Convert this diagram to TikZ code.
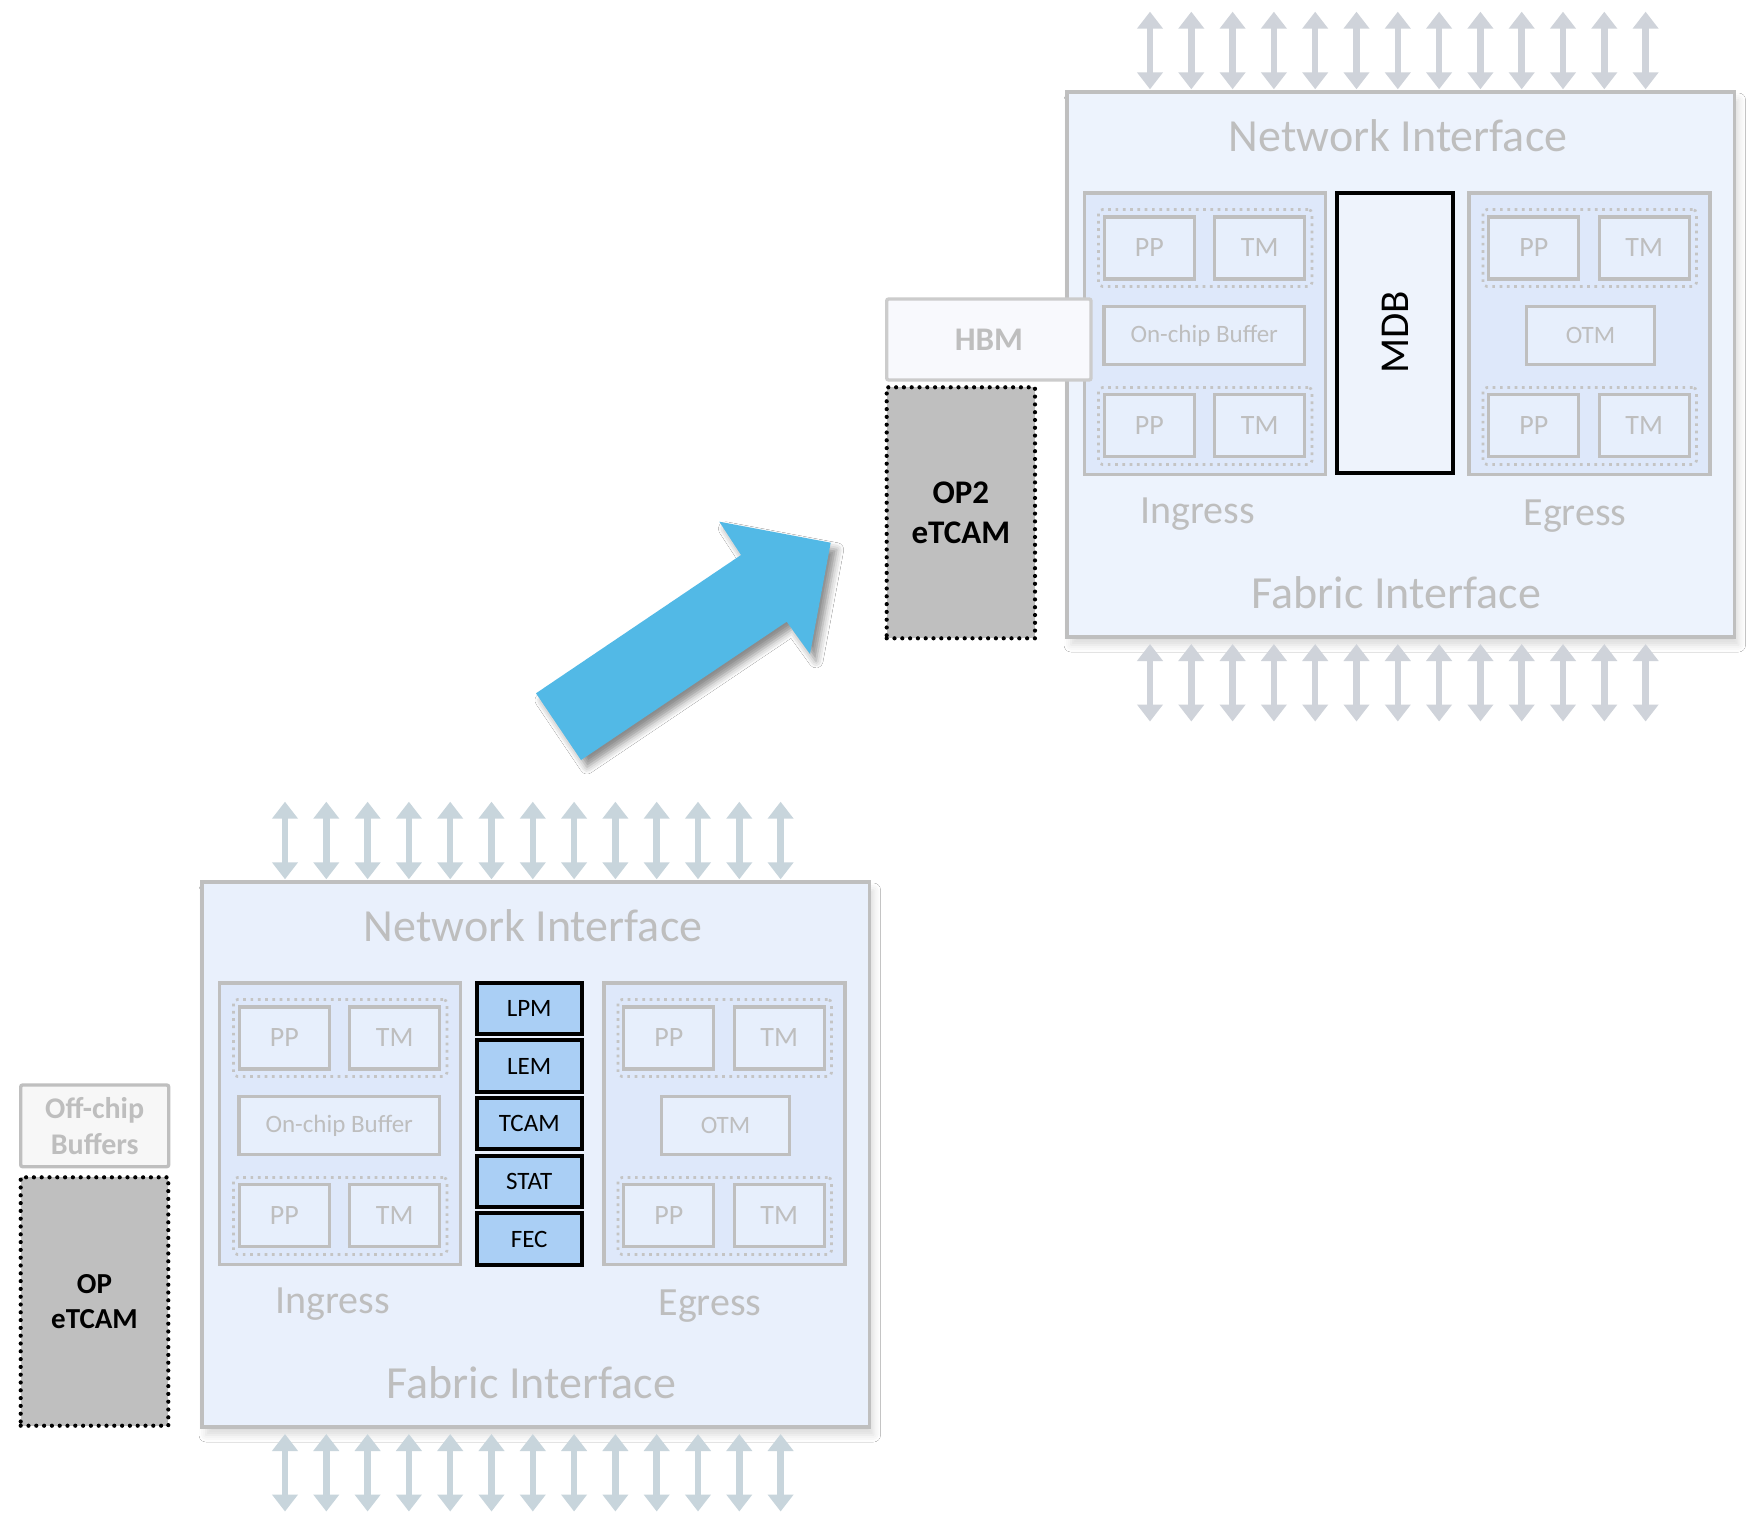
\documentclass[tikz,border=0pt]{standalone}
\usepackage{fontspec}
\setmainfont{Carlito}
\usetikzlibrary{arrows.meta,shadows.blur}
\definecolor{gline}{HTML}{BFBFBF}
\definecolor{gtext}{HTML}{BEBEBE}
\definecolor{dotline}{HTML}{C4C4C4}
\definecolor{grpfill}{HTML}{DEE8FA}
\definecolor{boxfill}{HTML}{E7EFFC}
\definecolor{chipA}{HTML}{E9F0FC}
\definecolor{chipB}{HTML}{EDF3FD}
\definecolor{busA}{HTML}{C8D5DC}
\definecolor{busB}{HTML}{CFD3DA}
\definecolor{blkfill}{HTML}{AACFF5}
\definecolor{mdbfill}{HTML}{EEF3FC}
\definecolor{hbmfill}{HTML}{F8F9FD}
\definecolor{hbmline}{HTML}{CCCCCC}
\definecolor{offfill}{HTML}{F7F7F7}
\definecolor{tcamgray}{HTML}{BFBFBF}
\definecolor{bluearr}{HTML}{52B9E6}

\newcommand\drawchip[5]{%
\begin{scope}[shift={(#2,#3)}]
\node[chip, fill=#5] (#1out) at (535.75,1154.5) {};
\node[lbl, bigf, anchor=base] (#1ni) at (533,941.7) {Network Interface};
\node[lbl, bigf, anchor=base] (#1fi) at (531.3,1398.5) {Fabric Interface};
\node[lbl, midf, anchor=base] (#1ing) at (332.7,1313) {Ingress};
\node[lbl, midf, anchor=base] (#1egr) at (710,1315) {Egress};
\node[grp] (#1ig) at (340,1123.75) {};
\node[grp] (#1eg) at (724.5,1123.75) {};
\node[dotgrp] (#1id1) at (340.25,1038) {};
\node[dotgrp] (#1id2) at (340.25,1216) {};
\node[dotgrp] (#1ed1) at (724.75,1038) {};
\node[dotgrp] (#1ed2) at (724.75,1216) {};
\node[pbox] (#1ipp1) at (284.25,1037.85) {PP};
\node[pbox] (#1itm1) at (394.75,1037.85) {TM};
\node[pbox] (#1ipp2) at (284.25,1215.7) {PP};
\node[pbox] (#1itm2) at (394.75,1215.7) {TM};
\node[pbox] (#1epp1) at (668.75,1037.85) {PP};
\node[pbox] (#1etm1) at (779.25,1037.85) {TM};
\node[pbox] (#1epp2) at (668.75,1215.7) {PP};
\node[pbox] (#1etm2) at (779.25,1215.7) {TM};
\node[pbox, minimum width=200.5pt, minimum height=57.6pt, font=\fontsize{25}{30}\selectfont] (#1buf) at (339.25,1125.5) {On-chip Buffer};
\node[pbox, minimum width=128pt, minimum height=57.6pt, font=\fontsize{25}{30}\selectfont] (#1otm) at (725.5,1125.5) {OTM};
\foreach \i in {0,...,12}{
  \coordinate (#1ta\i) at ({285+41.3*\i},801.7);
  \coordinate (#1tb\i) at ({285+41.3*\i},879.3);
  \coordinate (#1ba\i) at ({285+41.3*\i},1434);
  \coordinate (#1bb\i) at ({285+41.3*\i},1511.5);
  \draw[iobus, draw=#4] (#1ta\i) -- (#1tb\i);
  \draw[iobus, draw=#4] (#1ba\i) -- (#1bb\i);
}
\end{scope}}

\begin{document}
\begin{tikzpicture}[x=1pt,y=-1pt,
  chip/.style={draw=gline, line width=3.7pt, minimum width=667.5pt, minimum height=545pt, inner sep=0pt,
    blur shadow={shadow xshift=4pt, shadow yshift=-8pt, shadow blur radius=7pt, shadow opacity=14}},
  lbl/.style={text=gtext, inner sep=0pt},
  bigf/.style={font=\fontsize{46}{55}\selectfont},
  midf/.style={font=\fontsize{40}{48}\selectfont},
  grp/.style={draw=gline, line width=3.4pt, fill=grpfill, minimum width=241pt, minimum height=281.5pt, inner sep=0pt},
  dotgrp/.style={draw=dotline, line width=2.7pt, dash pattern=on 2.7pt off 4.6pt, rounded corners=4pt,
    minimum width=213.5pt, minimum height=77pt, inner sep=0pt},
  pbox/.style={draw=gline, line width=3.4pt, fill=boxfill, text=gtext, font=\fontsize{28}{34}\selectfont,
    minimum width=90pt, minimum height=62pt, inner sep=0pt},
  blk/.style={draw=black, line width=4pt, fill=blkfill, font=\fontsize{25}{30}\selectfont,
    minimum width=105pt, minimum height=51.5pt, inner sep=0pt},
  iobus/.style={line width=6.5pt, arrows={Triangle[width=25pt,length=17pt]-Triangle[width=25pt,length=17pt]}},
  etcam/.style={draw=black, line width=4.2pt, dash pattern=on 0pt off 7.8pt, line cap=round, fill=tcamgray,
    align=center, inner sep=0pt},
  sidebox/.style={line width=3.4pt, align=center, inner sep=0pt, text=gtext, rounded corners=2pt}
]
\useasboundingbox (0,0) rectangle (1750,1514);
\fill[white] (0,0) rectangle (1750,1514);

% bottom-left chip
\drawchip{A}{0}{0}{busA}{chipA}
\node[blk] (lpm)  at (529.2,1008.4) {LPM};
\node[blk] (lem)  at (529.2,1066.1) {LEM};
\node[blk] (tcam) at (529.2,1123.7) {TCAM};
\node[blk] (stat) at (529.2,1181.4) {STAT};
\node[blk] (fec)  at (529.2,1239.0) {FEC};

\node[sidebox, draw=gline, fill=offfill, minimum width=148pt, minimum height=81.7pt,
  font=\bfseries\fontsize{30}{36}\selectfont] (offchip) at (94.7,1125.85) {Off-chip\\Buffers};
\node[etcam, minimum width=147.6pt, minimum height=248.4pt,
  font=\bfseries\fontsize{29}{35}\selectfont] (op) at (94.5,1301.5) {OP\\eTCAM};

% top-right chip
\drawchip{B}{865}{-790}{busB}{chipB}
\node[draw=black, line width=3.7pt, fill=mdbfill, rotate=90, minimum width=280pt, minimum height=116pt,
  inner sep=0pt, font=\fontsize{41}{49}\selectfont] (mdb) at (1395,332.7) {MDB};

\node[sidebox, draw=hbmline, fill=hbmfill, minimum width=204.3pt, minimum height=81pt,
  font=\bfseries\fontsize{33}{40}\selectfont] (hbm) at (988.85,339.5) {HBM};
\node[etcam, minimum width=148.3pt, minimum height=251pt,
  font=\bfseries\fontsize{33}{40}\selectfont] (optwo) at (960.85,512.8) {OP2\\eTCAM};

% big blue arrow
\fill[bluearr, blur shadow={shadow xshift=6pt, shadow yshift=-7pt, shadow blur radius=7pt, shadow opacity=45}]
  (536,693.3) -- (741,555) -- (719.3,521.7) -- (830.7,542.7) -- (810,654) -- (786.7,621.7) -- (581,760) -- cycle;
\end{tikzpicture}
\end{document}
